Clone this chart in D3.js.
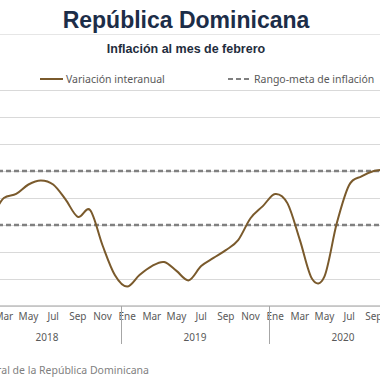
<!DOCTYPE html>
<html>
<head>
<meta charset="utf-8">
<script src="https://cdn.jsdelivr.net/npm/d3@7"></script>
<style>
  html, body { margin: 0; padding: 0; background: #fff; }
  svg { display: block; }
</style>
</head>
<body>
<svg id="chart" width="380" height="380"></svg>
<script>
// ---- Data ----
const title = "República Dominicana";
const subtitle = "Inflación al mes de febrero";
const seriesName = "Variación interanual";
const rangeName = "Rango-meta de inflación";
const source = "Fuente: Banco Central de la República Dominicana";

const years = ["2018", "2019", "2020"];
const monthNames = ["Ene","Feb","Mar","Abr","May","Jun","Jul","Ago","Sep","Oct","Nov","Dic"];
const labeledMonths = ["Ene","Mar","May","Jul","Sep","Nov"];

// year-on-year inflation (%), Jan 2018 .. Oct 2020
const inflation = [
  3.60, 3.40, 4.00, 4.15, 4.50, 4.65, 4.50, 3.95, 3.30, 3.55, 2.25, 1.15,
  0.72, 1.15, 1.48, 1.63, 1.30, 0.95, 1.48, 1.78, 2.07, 2.44, 3.25, 3.70,
  4.15, 3.80, 2.45, 1.00, 1.10, 3.07, 4.48, 4.80, 5.00, 5.05
];
const targetRange = [3, 5];
const yTicks = [0, 1, 2, 3, 4, 5, 6, 7, 8];

// ---- Build ----
const categories = [];
years.forEach(y => monthNames.forEach(m => categories.push(y + "-" + m)));
const data = inflation.map((v, i) => ({ key: categories[i], value: v }));

const svg = d3.select("#chart");

const x = d3.scaleBand().domain(categories).range([-27, 417]).paddingInner(0).paddingOuter(0);
const y = d3.scaleLinear().domain([0, 8]).range([306, 90]);

const labelFont = "'Noto Sans', 'DejaVu Sans', sans-serif";

// Title
svg.append("text").attr("x", 186).attr("y", 28).attr("text-anchor", "middle")
  .attr("font-family", "'Liberation Sans', Arial, sans-serif").attr("font-weight", "bold")
  .attr("font-size", 23).attr("fill", "#1c2d48").text(title);
svg.append("line").attr("x1", 0).attr("x2", 380).attr("y1", 34.5).attr("y2", 34.5)
  .attr("stroke", "#e6e6e6").attr("stroke-width", 1);
svg.append("text").attr("x", 186).attr("y", 53).attr("text-anchor", "middle")
  .attr("font-family", "'Liberation Sans', Arial, sans-serif").attr("font-weight", "bold")
  .attr("font-size", 12.5).attr("fill", "#1f2d3d").text(subtitle);

// Legend
const lg = svg.append("g");
lg.append("line").attr("x1", 40).attr("x2", 63).attr("y1", 79).attr("y2", 79)
  .attr("stroke", "#7a5a2c").attr("stroke-width", 2);
lg.append("text").attr("x", 66).attr("y", 82.5).attr("font-family", labelFont)
  .attr("font-size", 10.5).attr("fill", "#595959").text(seriesName);
lg.append("line").attr("x1", 228).attr("x2", 252).attr("y1", 79).attr("y2", 79)
  .attr("stroke", "#808080").attr("stroke-width", 2.2).attr("stroke-dasharray", "5,3");
lg.append("text").attr("x", 254).attr("y", 82.5).attr("font-family", labelFont)
  .attr("font-size", 10.5).attr("fill", "#595959").text(rangeName);

// Gridlines
const yAxis = d3.axisLeft(y).tickValues(yTicks).tickSize(-400).tickFormat("");
const gy = svg.append("g").attr("transform", "translate(-10,0)").call(yAxis);
gy.select(".domain").remove();
gy.selectAll(".tick line").attr("stroke", "#d9d9d9").attr("stroke-width", 1);

// Target range dashed lines
svg.append("g").selectAll("line").data(targetRange).join("line")
  .attr("x1", -10).attr("x2", 390)
  .attr("y1", d => y(d)).attr("y2", d => y(d))
  .attr("stroke", "#808080").attr("stroke-width", 2.5).attr("stroke-dasharray", "5,3");

// X axis (months)
const xAxis = d3.axisBottom(x).tickSizeOuter(0).tickSize(0)
  .tickFormat(d => { const m = d.split("-")[1]; return labeledMonths.includes(m) ? m : ""; });
const gx = svg.append("g").attr("transform", "translate(0," + y(0) + ")").call(xAxis);
gx.select(".domain").attr("stroke", "#bfbfbf").attr("stroke-width", 1.5)
  .attr("d", "M-30,0H420");
gx.selectAll(".tick text").attr("font-family", labelFont).attr("font-size", 10)
  .attr("fill", "#595959").attr("dy", "0.71em").attr("y", 7);

// Year separators & labels
const yearBounds = years.map(yr => ({
  yr, start: x(yr + "-Ene"), end: x(yr + "-Dic") + x.bandwidth()
}));
svg.append("g").selectAll("line").data(yearBounds.slice(1)).join("line")
  .attr("x1", d => d.start + 0.5).attr("x2", d => d.start + 0.5)
  .attr("y1", y(0)).attr("y2", y(0) + 38)
  .attr("stroke", "#a6a6a6").attr("stroke-width", 1);
svg.append("g").selectAll("text").data(yearBounds).join("text")
  .attr("x", d => (d.start + d.end) / 2).attr("y", y(0) + 35)
  .attr("text-anchor", "middle").attr("font-family", labelFont).attr("font-size", 10)
  .attr("fill", "#595959").text(d => d.yr);

// Series line
const line = d3.line()
  .x(d => x(d.key) + x.bandwidth() / 2)
  .y(d => y(d.value))
  .curve(d3.curveCatmullRom.alpha(0));
svg.append("path").datum(data).attr("d", line)
  .attr("fill", "none").attr("stroke", "#7a5a2c").attr("stroke-width", 2);

// Source
svg.append("text").attr("x", 149).attr("y", 374).attr("text-anchor", "end")
  .attr("font-family", labelFont).attr("font-size", 10.5).attr("fill", "#7f7f7f").text(source);
</script>
</body>
</html>
